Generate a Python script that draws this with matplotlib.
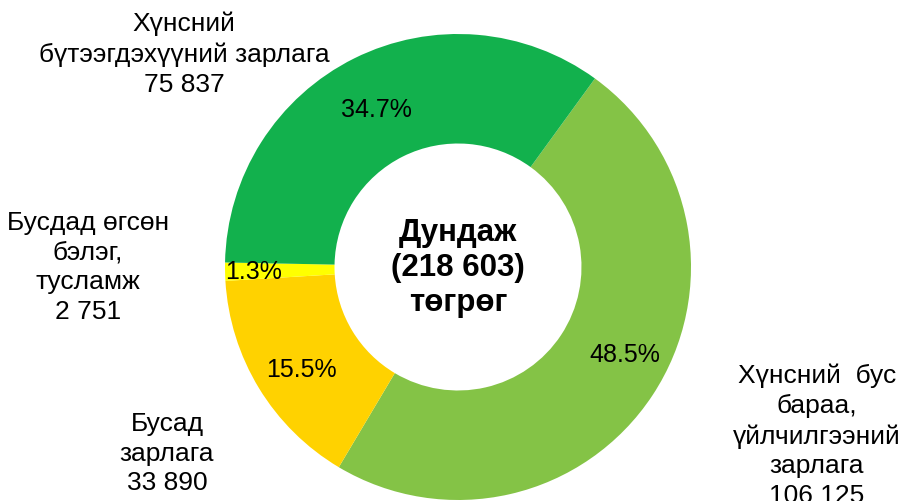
import matplotlib
matplotlib.use("Agg")
import matplotlib.pyplot as plt

# Data
categories = ["Хүнсний бус бараа, үйлчилгээний зарлага", "Бусад зарлага",
              "Бусдад өгсөн бэлэг, тусламж", "Хүнсний бүтээгдэхүүний зарлага"]
values = [106125, 33890, 2751, 75837]
pct_labels = ["48.5%", "15.5%", "1.3%", "34.7%"]
outer_labels = ["Хүнсний  бус\nбараа,\nүйлчилгээний\nзарлага\n106 125",
                "Бусад\nзарлага\n33 890",
                "Бусдад өгсөн\nбэлэг,\nтусламж\n2 751",
                "Хүнсний\nбүтээгдэхүүний зарлага\n75 837"]
colors = ["#84C346", "#FFD200", "#FFFF00", "#12B14D"]
total = 218603

plt.rcParams['font.family'] = ['Liberation Sans', 'DejaVu Sans']

W, H = 902, 502
fig = plt.figure(figsize=(W / 100, H / 100), dpi=100)
ax = fig.add_axes([0, 0, 1, 1])

cx, cy, r = 458, H - 268, 233
ax.pie(values, colors=colors, startangle=54, counterclock=False,
       center=(cx, cy), radius=r,
       wedgeprops=dict(width=r * 0.47, linewidth=0))
ax.set_xlim(0, W)
ax.set_ylim(0, H)
ax.set_aspect('equal')
ax.axis('off')

# percent labels (pixel positions, y from top)
pct_pos = [(625, 355), (301, 370), (254, 272), (376, 110)]
for (px, py), t in zip(pct_pos, pct_labels):
    ax.text(px, H - py, t, ha='center', va='center', fontsize=18)

# category labels
lab_pos = [(817, 364), (167, 412), (88, 211), (184, 12)]
for (px, py), t in zip(lab_pos, outer_labels):
    ax.text(px, H - py, t, ha='center', va='top', fontsize=19,
            linespacing=1.3)

ax.text(cx, cy, "Дундаж\n(" + f"{total:,}".replace(",", " ") + ")\nтөгрөг",
        ha='center', va='center', fontsize=22.5, fontweight='bold',
        linespacing=1.2)

fig.savefig("out.png", dpi=100)
